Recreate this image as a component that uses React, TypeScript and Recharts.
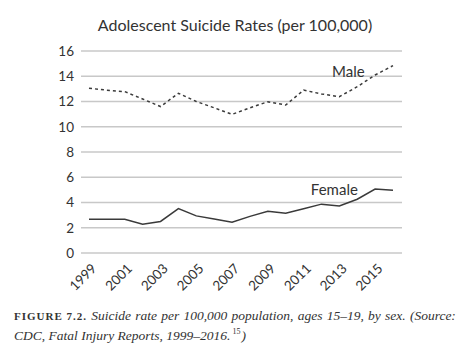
import React from 'react';
import { LineChart, Line, XAxis, YAxis, CartesianGrid } from 'recharts';

const years = ['1999','2000','2001','2002','2003','2004','2005','2006','2007','2008','2009','2010','2011','2012','2013','2014','2015','2016'];
const male = [13.05, 12.9, 12.78, 12.2, 11.6, 12.65, 12.0, 11.5, 10.98, 11.5, 11.98, 11.72, 12.9, 12.6, 12.38, 13.17, 14.1, 14.84];
const female = [2.67, 2.67, 2.67, 2.28, 2.5, 3.52, 2.94, 2.7, 2.43, 2.9, 3.3, 3.15, 3.5, 3.87, 3.73, 4.26, 5.06, 4.98];
const yTicks = [0, 2, 4, 6, 8, 10, 12, 14, 16];
const xTicks = ['1999','2001','2003','2005','2007','2009','2011','2013','2015'];

const data = years.map((y, i) => ({ year: y, male: male[i], female: female[i] }));

const FONT = 'Lato, "Open Sans", sans-serif';
const SERIF = '"Liberation Serif", "DejaVu Serif", serif';
const INK = '#333333';

const XTick = (props: any) => {
  const { x, y, payload } = props;
  const ax = x + 1;
  const ay = y + 1;
  return (
    <text x={ax} y={ay} transform={`rotate(-45 ${ax} ${ay})`} textAnchor="end" dominantBaseline="hanging" fontSize={13.5} fill={INK} fontFamily={FONT}>
      {payload.value}
    </text>
  );
};

const makeLabel = (idx: number, text: string, dx: number, dy: number) => (props: any) => {
  const { x, y, index } = props;
  if (index !== idx) return null;
  return (
    <text x={x + dx} y={y + dy} fontSize={15} fill={INK} fontFamily={FONT} textAnchor="middle">
      {text}
    </text>
  );
};

export default function App() {
  return (
    <div style={{ position: 'relative', width: 470, height: 356, margin: -8, background: '#fff', overflow: 'hidden' }}>
      <div style={{ position: 'absolute', left: 0, top: 15, width: 470, textAlign: 'center', fontFamily: FONT, fontSize: 16, color: INK }}>
        Adolescent Suicide Rates (per 100,000)
      </div>
      <div style={{ position: 'absolute', left: 0, top: 0 }}>
        <LineChart width={470} height={300} data={data} margin={{ top: 51, right: 68, bottom: 0, left: 0 }}>
          <CartesianGrid vertical={false} stroke="#c8c8c8" strokeWidth={1.5} />
          <XAxis dataKey="year" ticks={xTicks} interval={0} axisLine={false} tickLine={false} tick={<XTick />} padding={{ left: 8, right: 9 }} height={47} />
          <YAxis domain={[0, 16]} ticks={yTicks} interval={0} width={81} axisLine={false} tickLine={false} tickSize={5} tickMargin={2} tick={{ fontSize: 13.5, fill: INK, fontFamily: FONT }} />
          <Line dataKey="male" stroke="#3a3a3a" strokeWidth={1.5} strokeDasharray="3 3" dot={false} isAnimationActive={false} label={makeLabel(14, 'Male', 9, -20)} />
          <Line dataKey="female" stroke="#3a3a3a" strokeWidth={1.5} dot={false} isAnimationActive={false} label={makeLabel(14, 'Female', -5, -11)} />
        </LineChart>
      </div>
      <div style={{ position: 'absolute', left: 14, top: 306, width: 442, fontFamily: SERIF, fontSize: 13.5, lineHeight: '20px', color: INK }}>
        <div style={{ display: 'flex', justifyContent: 'space-between', alignItems: 'baseline', whiteSpace: 'nowrap' }}>
          <span style={{ fontSize: 11, fontWeight: 700, letterSpacing: 1 }}>FIGURE 7.2.</span>
          {['Suicide', 'rate', 'per', '100,000', 'population,', 'ages', '15–19,', 'by', 'sex.', '(Source:'].map((w) => (
            <i key={w}>{w}</i>
          ))}
        </div>
        <div style={{ whiteSpace: 'nowrap' }}>
          <i>CDC, Fatal Injury Reports, 1999–2016.</i>
          <span style={{ fontSize: 8, verticalAlign: 'top', lineHeight: '12px', marginLeft: 2, marginRight: 1 }}>15</span>
          <i>)</i>
        </div>
      </div>
    </div>
  );
}
